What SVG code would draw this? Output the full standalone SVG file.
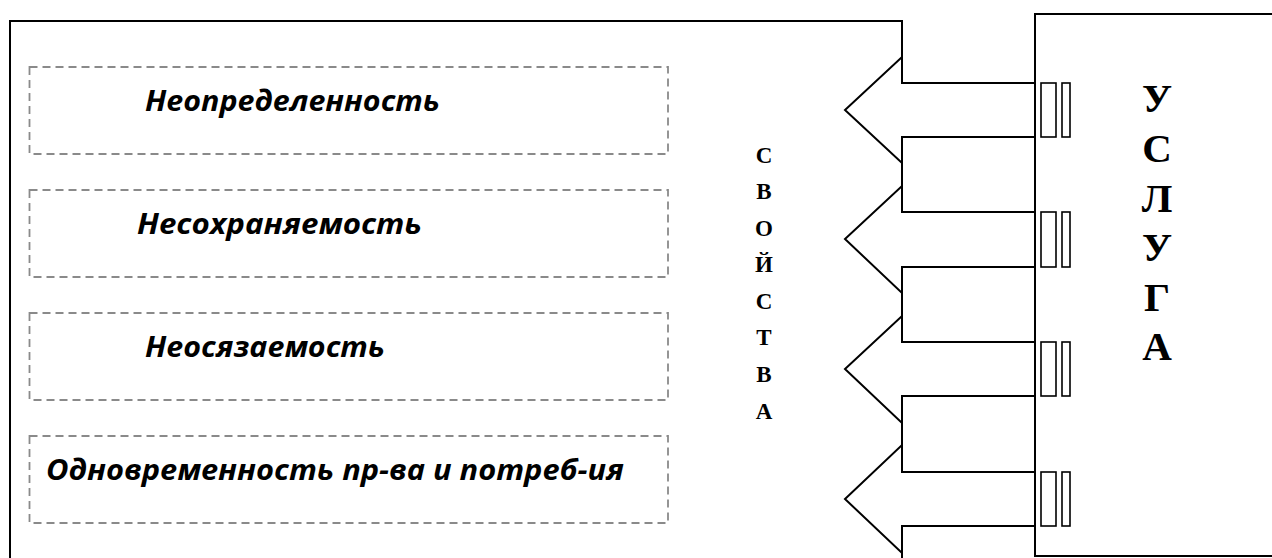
<svg xmlns="http://www.w3.org/2000/svg" width="1272" height="558" viewBox="0 0 1272 558">
<style>
.ln{fill:none;stroke:#000;stroke-width:2;stroke-linejoin:miter}
.dash{fill:none;stroke:#8a8a8a;stroke-width:1.8;stroke-dasharray:8 5}
.it{font-family:"Open Sans","Noto Sans",sans-serif;font-weight:bold;font-style:italic;font-size:29px;fill:#000}
.tm{font-family:"Liberation Serif","Times New Roman",serif;font-weight:bold;fill:#000;text-anchor:middle}
.tick{fill:#fff;stroke:#000;stroke-width:1.6}
</style>
<rect width="1272" height="558" fill="#fff"/>
<g id="properties-panel">
<path class="ln" d="M10,558 V21 H902 V57 M902,163 V186 M902,293 V316 M902,423 V445 M902,553 V558"/>
</g>
<g id="service">
<path class="ln" d="M1272,14 H1035 V556 H1272"/>
<text class="tm" font-size="41"><tspan x="1157" y="112">У</tspan><tspan x="1157" y="162">С</tspan><tspan x="1157" y="212">Л</tspan><tspan x="1157" y="261">У</tspan><tspan x="1157" y="311">Г</tspan><tspan x="1157" y="360">А</tspan></text>
</g>
<g id="label-svoistva">
<text class="tm" font-size="23"><tspan x="764" y="163">С</tspan><tspan x="764" y="199">В</tspan><tspan x="764" y="236">О</tspan><tspan x="764" y="272">Й</tspan><tspan x="764" y="309">С</tspan><tspan x="764" y="345">Т</tspan><tspan x="764" y="382">В</tspan><tspan x="764" y="419">А</tspan></text>
</g>
<g id="prop-1">
<rect class="dash" x="29.5" y="67" width="638.5" height="87"/>
<text class="it" x="145" y="111" textLength="295" lengthAdjust="spacingAndGlyphs">Неопределенность</text>
</g>
<g id="prop-2">
<rect class="dash" x="29.5" y="190" width="638.5" height="87"/>
<text class="it" x="137" y="234" textLength="285" lengthAdjust="spacingAndGlyphs">Несохраняемость</text>
</g>
<g id="prop-3">
<rect class="dash" x="29.5" y="313" width="638.5" height="87"/>
<text class="it" x="145" y="357" textLength="240" lengthAdjust="spacingAndGlyphs">Неосязаемость</text>
</g>
<g id="prop-4">
<rect class="dash" x="29.5" y="436" width="638.5" height="87"/>
<text class="it" x="46" y="480" textLength="578" lengthAdjust="spacingAndGlyphs">Одновременность пр-ва и потреб-ия</text>
</g>
<g id="connectors">
<g id="arrow-1">
<path class="ln" d="M1035,83 H902 V57 L845,110 L902,163 V137 H1035"/>
<rect class="tick" x="1041" y="83" width="15" height="54"/><rect class="tick" x="1062" y="83" width="8" height="54"/>
</g>
<g id="arrow-2">
<path class="ln" d="M1035,212 H902 V186 L845,239 L902,293 V267 H1035"/>
<rect class="tick" x="1041" y="212" width="15" height="55"/><rect class="tick" x="1062" y="212" width="8" height="55"/>
</g>
<g id="arrow-3">
<path class="ln" d="M1035,342 H902 V316 L845,369 L902,423 V396 H1035"/>
<rect class="tick" x="1041" y="342" width="15" height="54"/><rect class="tick" x="1062" y="342" width="8" height="54"/>
</g>
<g id="arrow-4">
<path class="ln" d="M1035,472 H902 V445 L845,499 L902,553 V526 H1035"/>
<rect class="tick" x="1041" y="472" width="15" height="54"/><rect class="tick" x="1062" y="472" width="8" height="54"/>
</g>
</g>
</svg>
